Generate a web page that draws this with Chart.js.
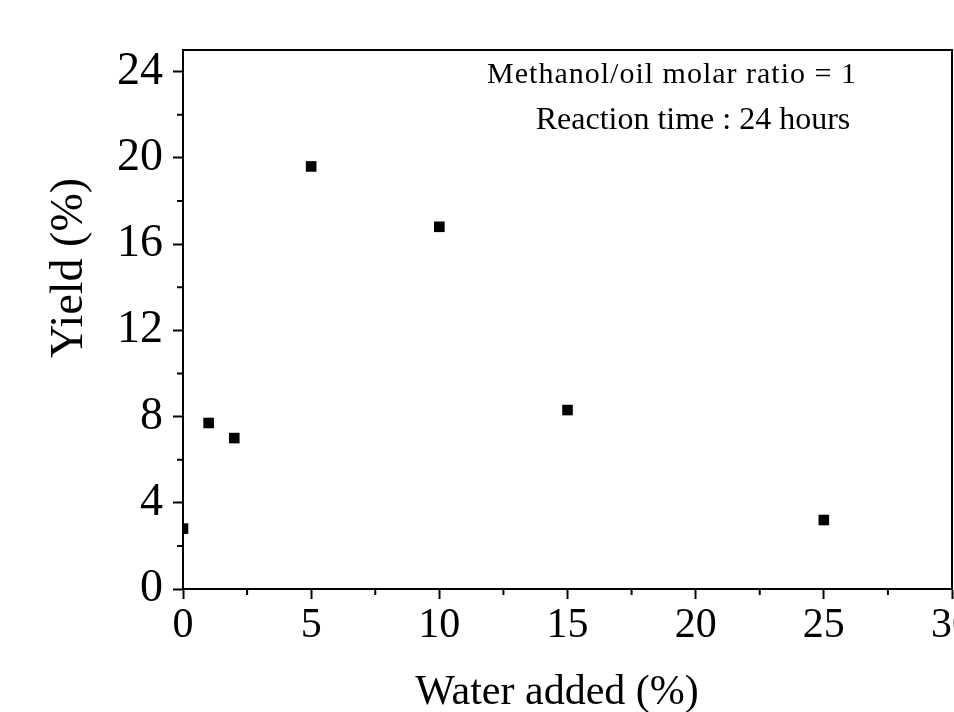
<!DOCTYPE html>
<html>
<head>
<meta charset="utf-8">
<script src="https://cdn.jsdelivr.net/npm/chart.js@4.4.1/dist/chart.umd.min.js"></script>
<style>
  html, body { margin: 0; padding: 0; background: #fff; }
</style>
</head>
<body>
<canvas id="chart" width="954" height="712"></canvas>
<script>
// data
const waterAdded = [0, 1, 2, 5, 10, 15, 25];
const yieldPct = [2.8, 7.7, 7.0, 19.6, 16.8, 8.3, 3.2];
const xMinorTicks = [2.5, 7.5, 12.5, 17.5, 22.5, 27.5];
const yMinorTicks = [2, 6, 10, 14, 18, 22];
const noteLines = ["Methanol/oil molar ratio = 1", "Reaction time : 24 hours"];
const xTitle = "Water added (%)";
const yTitle = "Yield (%)";

const serif = "'Liberation Serif', 'Times New Roman', serif";

// frame, minor ticks, axis titles and the note in the corner
const extras = {
    id: "extras",
    afterDraw(chart) {
        const ctx = chart.ctx;
        const area = chart.chartArea;
        const x = chart.scales.x;
        const y = chart.scales.y;
        ctx.save();
        ctx.strokeStyle = "#000";
        ctx.lineWidth = 2;
        ctx.strokeRect(area.left, area.top, area.right - area.left, area.bottom - area.top);

        ctx.beginPath();
        xMinorTicks.forEach(v => {
            const px = x.getPixelForValue(v);
            ctx.moveTo(px, area.bottom);
            ctx.lineTo(px, area.bottom + 6);
        });
        yMinorTicks.forEach(v => {
            const py = y.getPixelForValue(v);
            ctx.moveTo(area.left, py);
            ctx.lineTo(area.left - 6, py);
        });
        ctx.stroke();

        ctx.fillStyle = "#000";
        ctx.textAlign = "center";
        ctx.textBaseline = "alphabetic";

        ctx.save();
        ctx.translate(82, 268);
        ctx.rotate(-Math.PI / 2);
        ctx.font = "46px " + serif;
        ctx.fillText(yTitle, 0, 0);
        ctx.restore();

        ctx.font = "42px " + serif;
        ctx.fillText(xTitle, 557, 704);

        ctx.font = "30px " + serif;
        ctx.letterSpacing = "1px";
        ctx.fillText(noteLines[0], 672, 83);
        ctx.letterSpacing = "0px";
        ctx.font = "32px " + serif;
        ctx.fillText(noteLines[1], 693, 129);
        ctx.restore();
    }
};

new Chart(document.getElementById("chart"), {
    type: "scatter",
    data: {
        datasets: [{
            data: waterAdded.map((w, i) => ({ x: w, y: yieldPct[i] })),
            pointStyle: "rect",
            pointRadius: 7.5,
            pointHoverRadius: 7.5,
            pointBorderWidth: 0,
            backgroundColor: "#000",
            borderColor: "#000",
            clip: 0
        }]
    },
    options: {
        responsive: false,
        animation: false,
        layout: { autoPadding: false, padding: { top: 50, right: 2, left: 0, bottom: 0 } },
        plugins: {
            legend: { display: false },
            tooltip: { enabled: false }
        },
        scales: {
            x: {
                type: "linear",
                min: 0,
                max: 30,
                ticks: {
                    stepSize: 5,
                    color: "#000",
                    padding: 2,
                    font: { family: serif, size: 42 }
                },
                grid: { drawOnChartArea: false, tickLength: 10, tickWidth: 2, tickColor: "#000" },
                border: { color: "#000", width: 2 },
                afterFit: s => { s.height = 123; s.paddingLeft = 0; s.paddingRight = 0; }
            },
            y: {
                min: 0,
                max: 25,
                ticks: {
                    stepSize: 4,
                    includeBounds: false,
                    color: "#000",
                    padding: 10,
                    font: { family: serif, size: 46 }
                },
                grid: { drawOnChartArea: false, tickLength: 10, tickWidth: 2, tickColor: "#000" },
                border: { color: "#000", width: 2 },
                afterFit: s => { s.width = 183; }
            }
        }
    },
    plugins: [extras]
});
</script>
</body>
</html>
